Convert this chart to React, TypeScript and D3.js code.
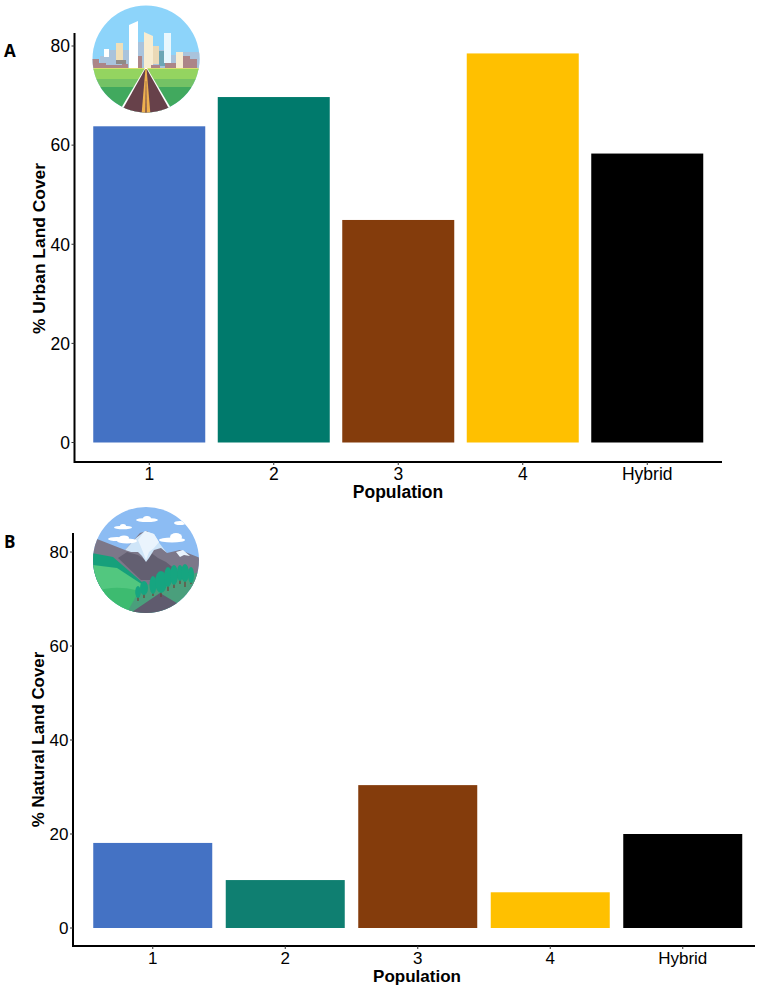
import React from "react";
import * as d3 from "d3";

const categories = ["1", "2", "3", "4", "Hybrid"];
const urbanValues = [63.8, 69.7, 44.9, 78.5, 58.3];
const naturalValues = [18.1, 10.2, 30.4, 7.6, 20.0];
const urbanColors = ["#4472c4", "#007a6c", "#843c0c", "#ffc000", "#000000"];
const naturalColors = ["#4472c4", "#0f7f71", "#843c0c", "#ffc000", "#000000"];
const yTicks = [0, 20, 40, 60, 80];

const FONT = "'Liberation Sans', Arial, sans-serif";

type PanelProps = {
  letter: string; letterY: number; yLabel: string; values: number[]; colors: string[];
  axisX: number; axisTop: number; axisBottom: number; axisRight: number;
  y0: number; y80: number; band0: number; bandStep: number; barW: number;
  titleX: number; titleY: number; yTitleX: number; yTitleY: number;
  tickFont: number; xTitleFont: number; yTitleFont: number;
};

function Panel(p: PanelProps) {
  const y = d3.scaleLinear().domain([0, 80]).range([p.y0, p.y80]);
  const x = d3.scaleBand<string>().domain(categories)
    .range([p.band0, p.band0 + p.bandStep * categories.length]);
  const cx = (c: string) => (x(c) as number) + x.bandwidth() / 2;
  return (
    <g>
      <text x={4} y={p.letterY} fontFamily="'Open Sans', sans-serif" fontWeight={700} fontSize={17}>{p.letter}</text>
      {categories.map((c, i) => (
        <rect key={c} x={cx(c) - p.barW / 2} width={p.barW} y={y(p.values[i])}
          height={p.y0 - y(p.values[i])} fill={p.colors[i]} />
      ))}
      <path d={`M${p.axisX},${p.axisTop}V${p.axisBottom}H${p.axisRight}`} fill="none" stroke="#000" strokeWidth={2} />
      {yTicks.map(t => (
        <g key={t}>
          <line x1={p.axisX - 3} x2={p.axisX} y1={y(t)} y2={y(t)} stroke="#333" strokeWidth={1} />
          <text x={p.axisX - 4.5} y={y(t)} dy="0.36em" textAnchor="end" fontFamily={FONT} fontSize={p.tickFont}>{t}</text>
        </g>
      ))}
      {categories.map(c => (
        <g key={c}>
          <line x1={cx(c)} x2={cx(c)} y1={p.axisBottom} y2={p.axisBottom + 3} stroke="#333" strokeWidth={1} />
          <text x={cx(c)} y={p.axisBottom + 17.5} textAnchor="middle" fontFamily={FONT} fontSize={p.tickFont}>{c}</text>
        </g>
      ))}
      <text x={p.titleX} y={p.titleY} textAnchor="middle" fontFamily={FONT} fontWeight={700} fontSize={p.xTitleFont}>Population</text>
      <text transform={`translate(${p.yTitleX},${p.yTitleY}) rotate(-90)`} textAnchor="middle"
        fontFamily={FONT} fontWeight={700} fontSize={p.yTitleFont}>{p.yLabel}</text>
    </g>
  );
}

function CityIcon() {
  return (
    <g transform="translate(146,59)">
      <clipPath id="cityClip"><circle r={53.5} /></clipPath>
      <g clipPath="url(#cityClip)">
        <rect x={-54} y={-54} width={108} height={110} fill="#8dd4fa" />
        <path d="M-46,9V-3H-38V-9H-30V-9H-8V-17H-2V-9H24V-4H36V-7H54V9Z" fill="#a9c3dc" />
        <rect x={-42} y={-10} width={5} height={8} fill="#ffffff" />
        <rect x={-30} y={-16} width={7} height={17} fill="#efdfb8" />
        <rect x={-30} y={1} width={10} height={4} fill="#8f8a86" />
        <path d="M-54,9V0H-47V4H-40V6H-24V5H-18V9Z" fill="#ac8588" />
        <rect x={-8} y={-3} width={4} height={12} fill="#ac8588" />
        <path d="M-17,-34L-8,-38V9H-17Z" fill="#ffffff" />
        <rect x={13} y={-8} width={6} height={15} fill="#6da6b5" />
        <path d="M-2,-27L7,-23V9H-2Z" fill="#f7ecd0" />
        <rect x={7} y={-13} width={6} height={18} fill="#ead9b6" />
        <rect x={18} y={-26} width={7} height={30} fill="#e9f7fd" />
        <rect x={30} y={-7} width={7} height={16} fill="#f7ecd0" />
        <path d="M37,9V-3H44V0H51V9ZM5,9V6H14V9ZM19,9V4H30V9Z" fill="#ac8588" />
        <rect x={-54} y={9} width={108} height={2} fill="#d8e06e" />
        <rect x={-54} y={10} width={108} height={10} fill="#94d460" />
        <rect x={-54} y={20} width={108} height={8} fill="#74c265" />
        <rect x={-54} y={28} width={108} height={28} fill="#41a95e" />
        <path d="M-1,9L-29,56H29L1,9Z" fill="#fff" />
        <path d="M-0.8,10L-26.5,56H26.5L0.8,10Z" fill="#67414a" />
        <path d="M-0.6,10L-4.5,56H4.5L0.6,10Z" fill="#eeb04e" />
        <path d="M-0.2,22L-0.7,56H0.7L0.2,22Z" fill="#67414a" />
      </g>
    </g>
  );
}

function MountainIcon() {
  return (
    <g transform="translate(146,560)">
      <clipPath id="mtnClip"><circle r={53} /></clipPath>
      <g clipPath="url(#mtnClip)">
        <rect x={-54} y={-54} width={108} height={108} fill="#8cbcf3" />
        <path d="M-49,-21L-21,-10L-6,-27L1,-29L21,-7L34,-10L54,-2V30H-54V-21Z" fill="#7c7789" />
        <path d="M-28,-2L-19,-8L-8,-5L-2,-1L4,-8L12,-2L20,2L30,10L40,20H-5Z" fill="#635f71" />
        <path d="M-21,-10L-10,-22L-1,-29L8,-26L14,-16L21,-7L15,-12L8,-10L3,-2L0,2L-4,-4L-8,-8L-15,-8Z" fill="#cfe5f8" />
        <path d="M-8,-20L-1,-29L8,-26L13,-18L8,-12L3,-8L0,0L-3,-8Z" fill="#eaf4fd" />
        <path d="M30,-8L37,-10L44,-4L38,-5L34,-3Z" fill="#eaf4fd" />
        <g fill="#ffffff">
          <ellipse cx={1} cy={-40} rx={11} ry={2} />
          <ellipse cx={1} cy={-41.5} rx={4} ry={2.5} />
          <ellipse cx={-23} cy={-32.5} rx={9} ry={1.8} />
          <ellipse cx={-23} cy={-34} rx={3} ry={2} />
          <ellipse cx={-29} cy={-21} rx={9} ry={2} />
          <ellipse cx={-19} cy={-19} rx={10} ry={2.5} />
          <ellipse cx={-22} cy={-22} rx={5} ry={2.5} />
          <ellipse cx={26} cy={-20} rx={13} ry={2.5} />
          <ellipse cx={30} cy={-23} rx={6} ry={4} />
          <ellipse cx={34} cy={-37} rx={6} ry={2} />
        </g>
        <path d="M-54,-7L-33,-3L-3,23L-10,40H-54Z" fill="#16a07b" />
        <path d="M-54,5L-29,8L-6,23L4,30L-10,54H-54Z" fill="#52c77f" />
        <path d="M-54,32C-30,24-12,28 6,36L-12,54H-54Z" fill="#3dbb70" />
        <path d="M54,12L-4,26L-20,54H54Z" fill="#4a9f7c" />
        <path d="M-14,52L14,33L34,45L30,56H-20Z" fill="#5f5b6e" />
        <g stroke="#6d4038" strokeWidth={1.2}>
          <path d="M-8,34V41M-2,32V38M7,30V36M15,28V37M22,24V31M28,22V28M34,18V24M39,20V27M45,19V24" />
        </g>
        <g fill="#16a580">
          <ellipse cx={-8} cy={32} rx={2.8} ry={6} />
          <ellipse cx={-2} cy={28} rx={4} ry={7} />
          <ellipse cx={7} cy={25} rx={3.5} ry={9} />
          <ellipse cx={15} cy={22} rx={6} ry={11} />
          <ellipse cx={22} cy={17} rx={4} ry={10} />
          <ellipse cx={28} cy={15} rx={4} ry={10} />
          <ellipse cx={34} cy={13} rx={3} ry={8} />
          <ellipse cx={39} cy={13} rx={4} ry={9} />
          <ellipse cx={45} cy={15} rx={3} ry={8} />
        </g>
      </g>
    </g>
  );
}

export default function App() {
  return (
    <svg width={765} height={991} viewBox="0 0 765 991"
      style={{ position: "absolute", left: 0, top: 0, background: "#fff" }}>
      <Panel letter="A" letterY={57} yLabel="% Urban Land Cover" values={urbanValues} colors={urbanColors}
        axisX={74.5} axisTop={33} axisBottom={462} axisRight={722}
        y0={442.5} y80={46} band0={87} bandStep={124.5} barW={112}
        titleX={398} titleY={498} yTitleX={45} yTitleY={248.5}
        tickFont={17.5} xTitleFont={17.5} yTitleFont={17.4} />
      <Panel letter="B" letterY={548} yLabel="% Natural Land Cover" values={naturalValues} colors={naturalColors}
        axisX={73} axisTop={533} axisBottom={946} axisRight={755}
        y0={928} y80={552} band0={86.5} bandStep={132.5} barW={119}
        titleX={417} titleY={982} yTitleX={44} yTitleY={739.5}
        tickFont={17} xTitleFont={17} yTitleFont={16.9} />
      <CityIcon />
      <MountainIcon />
    </svg>
  );
}
